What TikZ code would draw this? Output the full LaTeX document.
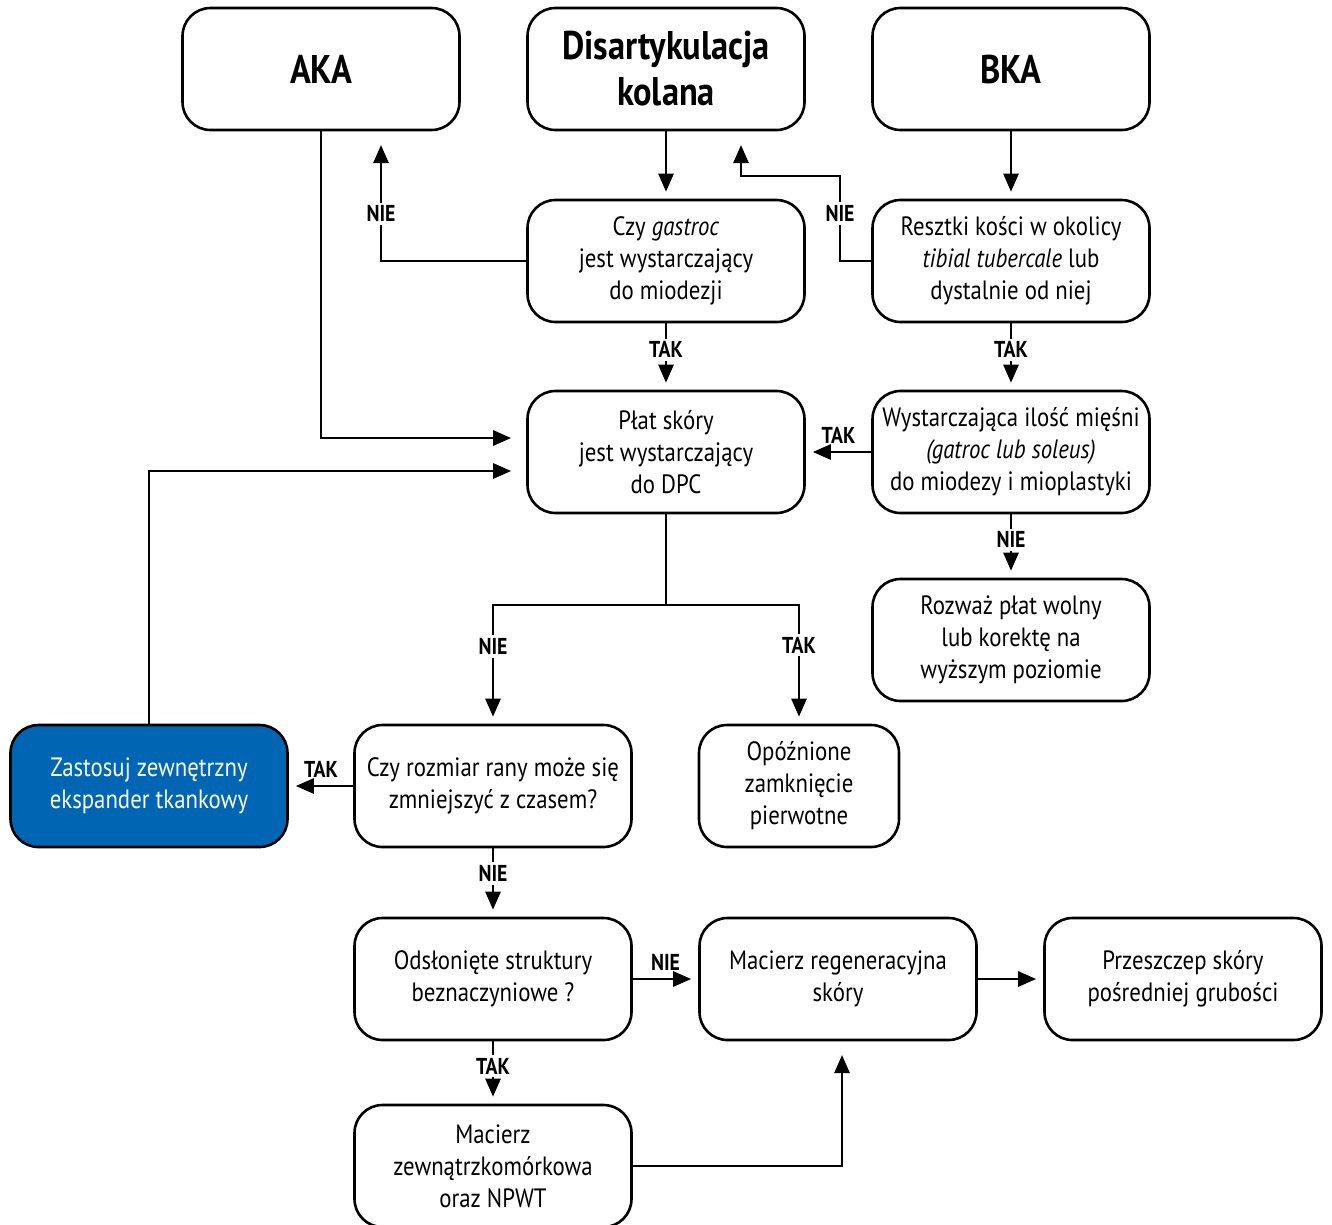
\documentclass[tikz,border=0pt]{standalone}
\usepackage{fontspec}
\setmainfont{PT Sans}[FakeStretch=0.86]
\usetikzlibrary{arrows.meta}

\begin{document}
\begin{tikzpicture}[x=1pt,y=-1pt]
\tikzset{font=\fontsize{26.5}{32}\selectfont}
\tikzset{box/.style={draw, line width=2.6pt, rounded corners=28pt, minimum width=277pt, minimum height=122pt, align=center, inner sep=2pt}}
\tikzset{head/.style={box, font=\fontsize{40}{46}\selectfont\bfseries}}
\tikzset{arr/.style={line width=2.6pt, -{Triangle[length=18pt,width=15pt]}, shorten >=7pt}}
\tikzset{far/.style={arr, shorten >=15pt}}
\tikzset{lbl/.style={fill=white, inner sep=3pt, font=\fontsize{23}{24}\selectfont\bfseries}}
\definecolor{expblue}{HTML}{0066B3}
\useasboundingbox (0,0) rectangle (1332,1224);

% top row
\node[head] (aka) at (321,69) {AKA};
\node[head] (disart) at (666,69) {Disartykulacja\\kolana};
\node[head] (bka) at (1011,69) {BKA};

\node[box] (gastroc) at (666,261) {Czy \textit{gastroc}\\jest wystarczający\\do miodezji};
\node[box] (resztki) at (1011,261) {Resztki kości w okolicy\\\textit{tibial tubercale} lub\\dystalnie od niej};
\node[box] (plat) at (666,452) {Płat skóry\\jest wystarczający\\do DPC};
\node[box] (miesnie) at (1011,452) {Wystarczająca ilość mięśni\\\textit{(gatroc lub soleus)}\\do miodezy i mioplastyki};
\node[box] (rozwaz) at (1011,640) {Rozważ płat wolny\\lub korektę na\\wyższym poziomie};

% middle row
\node[box, fill=expblue, text=white] (ekspander) at (149,786) {Zastosuj zewnętrzny\\ekspander tkankowy};
\node[box] (rozmiar) at (493,786) {Czy rozmiar rany może się\\zmniejszyć z czasem?};
\node[box, minimum width=200pt] (opozn) at (799,786) {Opóźnione\\zamknięcie\\pierwotne};

% bottom rows
\node[box] (struktury) at (493,979) {Odsłonięte struktury\\beznaczyniowe ?};
\node[box] (regen) at (838,979) {Macierz regeneracyjna\\skóry};
\node[box] (przeszczep) at (1183,979) {Przeszczep skóry\\pośredniej grubości};
\node[box] (npwt) at (493,1166) {Macierz\\zewnątrzkomórkowa\\oraz NPWT};

\coordinate (akaIn) at (381,130);
\coordinate (disIn) at (741,130);
\coordinate (regIn) at (842,1040);
\coordinate (split) at (666,605);

% connectors
\draw[arr] (disart) -- (gastroc);
\draw[arr] (bka) -- (resztki);
\draw[far] (gastroc.west) -| node[lbl, pos=0.68] {NIE} (akaIn);
\draw[far] (resztki.west) -| node[lbl, pos=0.78] {NIE} (840,176) -| (disIn);
\draw[arr] (gastroc) -- node[lbl, pos=0.4] {TAK} (plat);
\draw[arr] (resztki) -- node[lbl, pos=0.4] {TAK} (miesnie);
\draw[arr] (miesnie) -- node[lbl, fill=none, above=4pt] {TAK} (plat);
\draw[arr] (miesnie) -- node[lbl, pos=0.4] {NIE} (rozwaz);
\draw[far] (aka.south) |- ([yshift=14pt]plat.west);
\draw[far] (ekspander.north) |- ([yshift=-19pt]plat.west);
\draw[line width=2.6pt] (plat.south) -- (split);
\draw[arr] (split) -| node[lbl, pos=0.675] {NIE} (rozmiar.north);
\draw[arr] (split) -| node[lbl, pos=0.67] {TAK} (opozn.north);
\draw[arr] (rozmiar) -- node[lbl, fill=none, above=4pt] {TAK} (ekspander);
\draw[arr] (rozmiar) -- node[lbl, pos=0.37] {NIE} (struktury);
\draw[arr] (struktury) -- node[lbl, fill=none, above=4pt] {NIE} (regen);
\draw[arr] (regen) -- (przeszczep);
\draw[arr] (struktury) -- node[lbl, pos=0.4] {TAK} (npwt);
\draw[far] (npwt.east) -| (regIn);
\end{tikzpicture}
\end{document}
